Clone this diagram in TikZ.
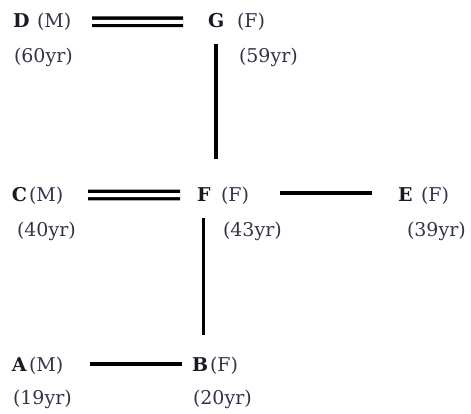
\documentclass[tikz,border=0pt]{standalone}
\usepackage{fontspec}
\setmainfont{DejaVu Serif}
\definecolor{ink}{HTML}{1A1A24}
\definecolor{soft}{HTML}{33334A}
\begin{document}
\begin{tikzpicture}[x=1pt,y=-1pt,
  every node/.style={inner sep=0pt, outer sep=0pt, font=\fontsize{19}{22}\selectfont},
  letter/.style={anchor=base west, text=ink, font=\fontsize{19}{22}\selectfont\bfseries},
  sex/.style={anchor=base west, text=soft},
  age/.style={anchor=base west, text=soft},
  ln/.style={line width=3.4pt, black},
  dbl/.style={double, double distance=4pt, line width=3.4pt, black}]
\useasboundingbox (0,0) rectangle (471,413);
\node[letter] (D) at (13,27) {D};
\node[sex] (Dx) at (37,27) {(M)};
\node[age] (Da) at (14,62) {(60yr)};
\node[letter] (G) at (208,27) {G};
\node[sex] (Gx) at (237,27) {(F)};
\node[age] (Ga) at (239,62) {(59yr)};
\node[letter] (C) at (12,201) {C};
\node[sex] (Cx) at (29,201) {(M)};
\node[age] (Ca) at (17,236) {(40yr)};
\node[letter] (F) at (197,201) {F};
\node[sex] (Fx) at (221,201) {(F)};
\node[age] (Fa) at (223,236) {(43yr)};
\node[letter] (E) at (398,201) {E};
\node[sex] (Ex) at (421,201) {(F)};
\node[age] (Ea) at (407,236) {(39yr)};
\node[letter] (A) at (12,371) {A};
\node[sex] (Ax) at (29,371) {(M)};
\node[age] (Aa) at (13,404) {(19yr)};
\node[letter] (B) at (192,371) {B};
\node[sex] (Bx) at (210,371) {(F)};
\node[age] (Ba) at (193,404) {(20yr)};
% connectors
\draw[dbl] ([xshift=79pt,yshift=-1.7pt]D.west) -- ([xshift=-25pt,yshift=-1.7pt]G.west);
\draw[dbl] ([xshift=76pt,yshift=-1pt]C.west) -- ([xshift=-17pt,yshift=-1pt]F.west);
\draw[ln] ([xshift=83pt,yshift=1pt]F.west) -- ([xshift=-26pt,yshift=1pt]E.west);
\draw[ln] ([xshift=78pt]A.west) -- ([xshift=-10pt]B.west);
\draw[ln, shorten <=17pt, shorten >=28pt] (G.south) -- (G.south |- F.north);
\draw[ln, shorten <=17pt, shorten >=22pt] (F.south) -- (F.south |- B.north);
\end{tikzpicture}
\end{document}
